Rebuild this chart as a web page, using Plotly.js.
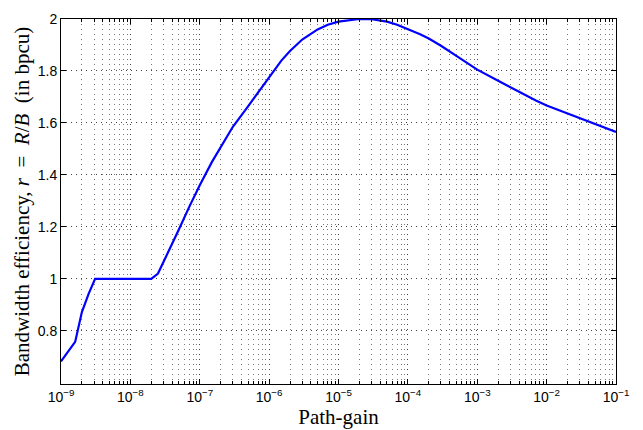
<!DOCTYPE html>
<html>
<head>
<meta charset="utf-8">
<script src="https://cdn.plot.ly/plotly-3.0.1.min.js"></script>
<style>html,body{margin:0;padding:0;background:#fff;}#chart{width:643px;height:430px;}</style>
</head>
<body>
<div id="chart"></div>
<script>
// Path-gain values (x) and bandwidth efficiency values (y)
const pathGain = [1e-9, 1.6e-9, 2e-9, 2.5e-9, 3.1e-9, 2e-8, 2.5e-8, 3e-8, 4e-8, 5e-8, 7e-8,
  1e-7, 1.5e-7, 2e-7, 3e-7, 5e-7, 7e-7,
  1e-6, 1.5e-6, 2e-6, 3e-6, 5e-6, 7e-6,
  1e-5, 1.5e-5, 2e-5, 3e-5, 5e-5, 7e-5,
  1e-4, 1.5e-4, 2e-4, 3e-4, 5e-4, 7e-4,
  1e-3, 2e-3, 3e-3, 5e-3, 7e-3,
  1e-2, 2e-2, 3e-2, 5e-2, 7e-2, 1e-1];
const efficiency = [0.682, 0.757, 0.872, 0.942, 1.0, 1.0, 1.02, 1.065, 1.13, 1.19, 1.275,
  1.36, 1.45, 1.505, 1.585, 1.665, 1.72,
  1.778, 1.84, 1.877, 1.921, 1.96, 1.978,
  1.99, 1.997, 2.0, 1.999, 1.99, 1.978,
  1.962, 1.941, 1.925, 1.897, 1.858, 1.831,
  1.805, 1.762, 1.737, 1.706, 1.686,
  1.667, 1.636, 1.617, 1.594, 1.58, 1.565];
const xTickVals = [1e-9, 1e-8, 1e-7, 1e-6, 1e-5, 1e-4, 1e-3, 1e-2, 1e-1];
const xTickText = ['10<sup>−9</sup>', '10<sup>−8</sup>', '10<sup>−7</sup>', '10<sup>−6</sup>', '10<sup>−5</sup>',
  '10<sup>−4</sup>', '10<sup>−3</sup>', '10<sup>−2</sup>', '10<sup>−1</sup>'];
const minorMantissas = [2, 3, 4, 5, 6, 7, 8, 9];
const yTickVals = [0.8, 1, 1.2, 1.4, 1.6, 1.8, 2];
const yTickText = ['0.8', '1', '1.2', '1.4', '1.6', '1.8', '2'];

// minor tick positions for each decade of the log axis
const xMinorVals = [];
xTickVals.slice(0, -1).forEach(d => minorMantissas.forEach(m => xMinorVals.push(d * m)));

const trace = {
  x: pathGain, y: efficiency, type: 'scatter', mode: 'lines',
  line: {color: '#0000ff', width: 2.2}, hoverinfo: 'none'
};
const tickFont = {family: 'Liberation Sans, Arial, sans-serif', size: 14, color: '#000'};
const titleFont = {family: 'Liberation Serif, Times New Roman, serif', size: 21, color: '#000'};
const layout = {
  width: 643, height: 430,
  margin: {l: 61, r: 27, t: 19, b: 46},
  paper_bgcolor: '#fff', plot_bgcolor: '#fff',
  showlegend: false,
  font: tickFont,
  xaxis: {
    type: 'log', range: [-9, -1],
    tickmode: 'array', tickvals: xTickVals, ticktext: xTickText,
    ticks: 'inside', ticklen: 5, tickcolor: '#000',
    showline: true, linecolor: '#000', linewidth: 1, mirror: 'ticks',
    showgrid: true, gridcolor: '#444', griddash: '1px,4px', gridwidth: 1,
    zeroline: false,
    minor: {tickmode: 'array', tickvals: xMinorVals, ticks: 'inside', ticklen: 3, tickcolor: '#000',
      showgrid: true, gridcolor: '#777', griddash: '1px,4px', gridwidth: 1},
    tickfont: tickFont,
    title: {text: 'Path-gain', font: titleFont, standoff: 0}
  },
  yaxis: {
    range: [0.595, 2.0],
    tickmode: 'array', tickvals: yTickVals, ticktext: yTickText,
    ticks: 'inside', ticklen: 5, tickcolor: '#000',
    showline: true, linecolor: '#000', linewidth: 1, mirror: 'ticks',
    showgrid: true, gridcolor: '#444', griddash: '1px,4px', gridwidth: 1,
    zeroline: false,
    tickfont: tickFont,
    title: {text: 'Bandwidth efficiency, <i>r</i>&nbsp;&nbsp;=&nbsp;&nbsp;<i>R</i>/<i>B</i>&nbsp;&nbsp;(in bpcu)', font: titleFont, standoff: 2}
  }
};
Plotly.newPlot('chart', [trace], layout, {staticPlot: true, displayModeBar: false});
</script>
</body>
</html>
